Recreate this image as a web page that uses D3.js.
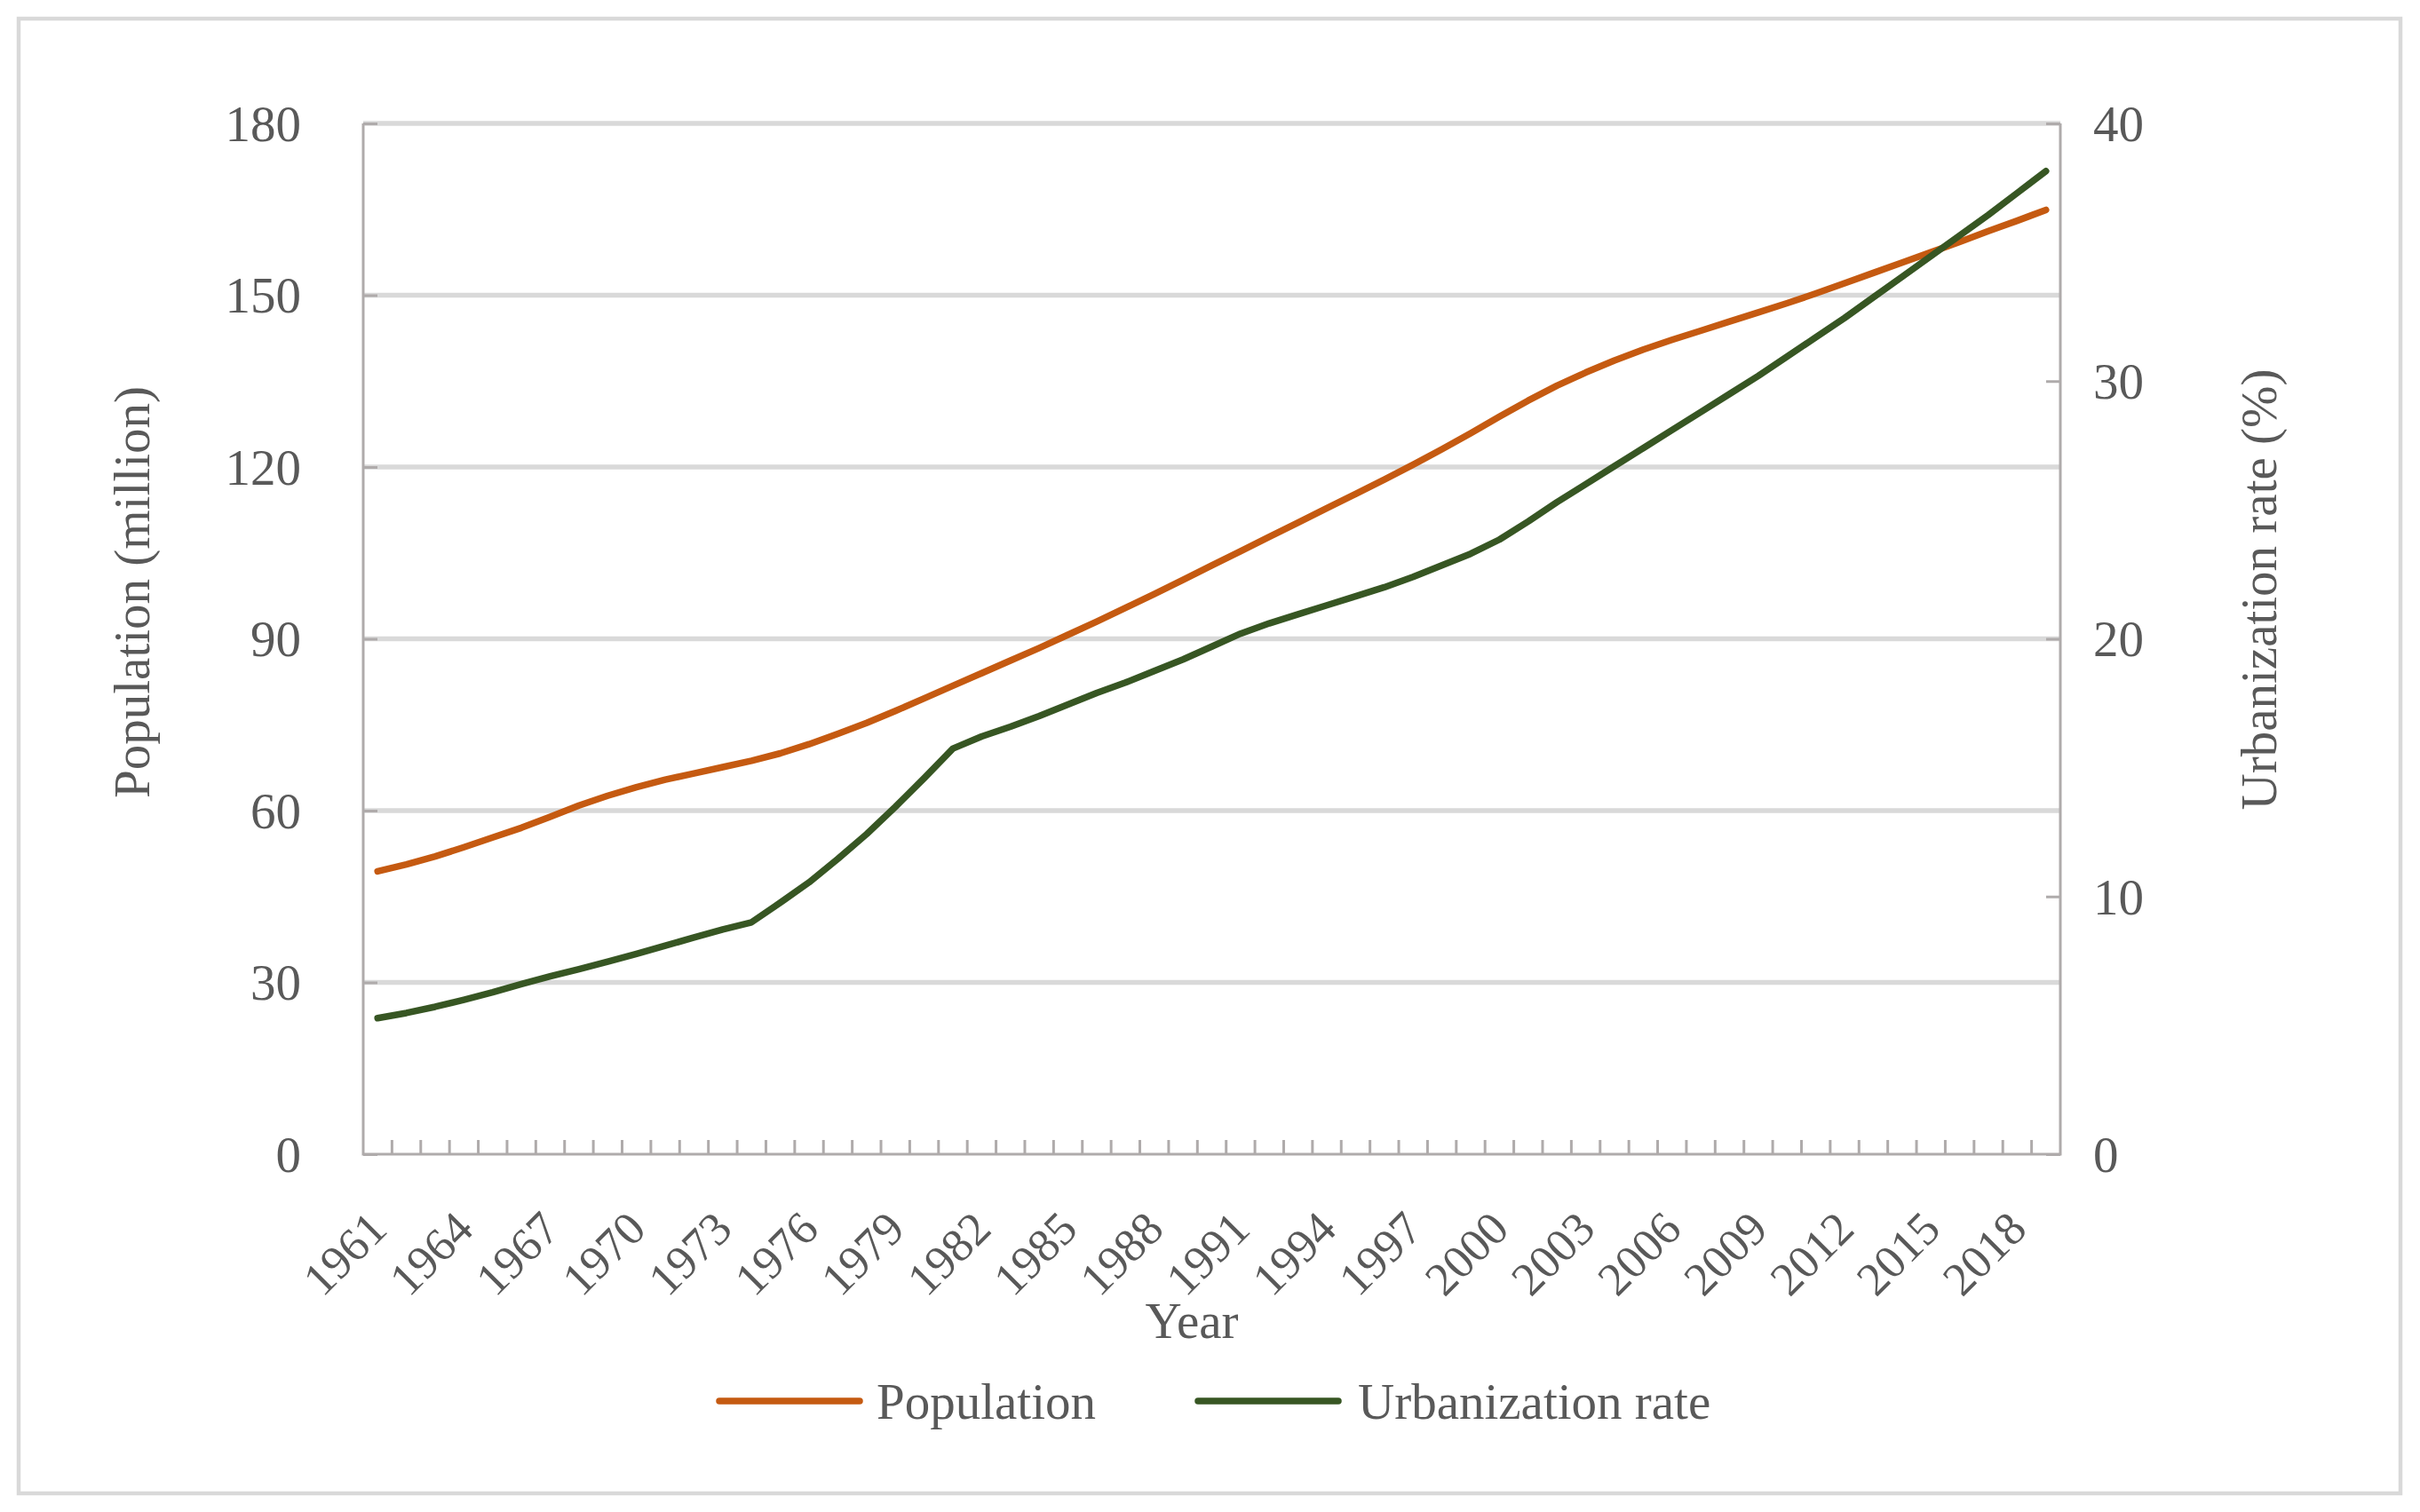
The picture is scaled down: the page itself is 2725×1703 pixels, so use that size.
<!DOCTYPE html>
<html>
<head>
<meta charset="utf-8">
<script src="https://cdn.jsdelivr.net/npm/d3@7"></script>
<style>
  body { margin: 0; background: #fff; }
  #chart text { font-family: "Liberation Serif", "Times New Roman", serif; fill: #595959; }
</style>
</head>
<body>
<div id="chart"></div>
<script>
// Categories
const years = [1961, 1962, 1963, 1964, 1965, 1966, 1967, 1968, 1969, 1970,
  1971, 1972, 1973, 1974, 1975, 1976, 1977, 1978, 1979, 1980,
  1981, 1982, 1983, 1984, 1985, 1986, 1987, 1988, 1989, 1990,
  1991, 1992, 1993, 1994, 1995, 1996, 1997, 1998, 1999, 2000,
  2001, 2002, 2003, 2004, 2005, 2006, 2007, 2008, 2009, 2010,
  2011, 2012, 2013, 2014, 2015, 2016, 2017, 2018, 2019];

// Population (million), left axis
const population = [49.4, 50.6, 52.0, 53.6, 55.3, 57.0, 58.9, 60.9, 62.6, 64.1,
  65.4, 66.5, 67.6, 68.7, 70.0, 71.6, 73.4, 75.3, 77.4, 79.6,
  81.8, 84.0, 86.2, 88.4, 90.7, 93.0, 95.4, 97.8, 100.3, 102.8,
  105.3, 107.8, 110.3, 112.8, 115.3, 117.8, 120.4, 123.1, 125.9, 128.8,
  131.6, 134.2, 136.5, 138.6, 140.5, 142.2, 143.8, 145.4, 147.0, 148.6,
  150.3, 152.1, 153.9, 155.7, 157.5, 159.3, 161.2, 163.0, 164.9];

// Urbanization rate (%), right axis
const urbanization = [5.28, 5.48, 5.72, 5.99, 6.28, 6.6, 6.9, 7.18, 7.47, 7.77,
  8.09, 8.41, 8.72, 9.0, 9.76, 10.55, 11.46, 12.42, 13.48, 14.59,
  15.74, 16.21, 16.59, 17.0, 17.45, 17.9, 18.3, 18.75, 19.2, 19.7,
  20.2, 20.6, 20.95, 21.3, 21.65, 22.0, 22.4, 22.85, 23.3, 23.85,
  24.55, 25.3, 26.0, 26.7, 27.4, 28.1, 28.8, 29.5, 30.2, 30.95,
  31.7, 32.45, 33.25, 34.05, 34.85, 35.65, 36.45, 37.3, 38.15];

// Tick labels
const leftTicks = [0, 30, 60, 90, 120, 150, 180];
const rightTicks = [0, 10, 20, 30, 40];
const labelYears = [1961, 1964, 1967, 1970, 1973, 1976, 1979, 1982, 1985, 1988,
  1991, 1994, 1997, 2000, 2003, 2006, 2009, 2012, 2015, 2018];

const seriesNames = ["Population", "Urbanization rate"];
const seriesColors = ["#c55a11", "#375623"];

const width = 2725, height = 1703;
const plot = { left: 409, right: 2320, top: 139, bottom: 1300 };
const fontSize = 57;
const yearFontSize = 53;
const axisColor = "#afabab";
const gridColor = "#d9d9d9";

const svg = d3.select("#chart").append("svg")
  .attr("width", width)
  .attr("height", height);

// Outer chart border
svg.append("rect")
  .attr("x", 21).attr("y", 21)
  .attr("width", 2682).attr("height", 1661)
  .attr("fill", "#fff")
  .attr("stroke", gridColor)
  .attr("stroke-width", 4.5);

// Scales
const x = d3.scaleBand().domain(years).range([plot.left, plot.right]);
const cx = (yr) => x(yr) + x.bandwidth() / 2;
const yLeft = d3.scaleLinear().domain([0, 180]).range([plot.bottom, plot.top]);
const yRight = d3.scaleLinear().domain([0, 40]).range([plot.bottom, plot.top]);

// Gridlines
svg.append("g")
  .selectAll("line")
  .data(leftTicks.filter((t) => t > 0))
  .enter()
  .append("line")
  .attr("x1", plot.left).attr("x2", plot.right)
  .attr("y1", (d) => yLeft(d)).attr("y2", (d) => yLeft(d))
  .attr("stroke", gridColor)
  .attr("stroke-width", 5.5);

// Left axis
const leftAxis = svg.append("g")
  .attr("transform", `translate(${plot.left},0)`)
  .call(d3.axisLeft(yLeft).tickValues(leftTicks).tickSize(-16).tickPadding(70));
leftAxis.select(".domain").remove();
leftAxis.selectAll("line").attr("stroke", axisColor).attr("stroke-width", 3);
leftAxis.selectAll("text").style("font-size", fontSize + "px").attr("dy", "0.34em");

// Right axis
const rightAxis = svg.append("g")
  .attr("transform", `translate(${plot.right},0)`)
  .call(d3.axisRight(yRight).tickValues(rightTicks).tickSize(-16).tickPadding(37));
rightAxis.select(".domain").remove();
rightAxis.selectAll("line").attr("stroke", axisColor).attr("stroke-width", 3);
rightAxis.selectAll("text").style("font-size", fontSize + "px").attr("dy", "0.34em");

// Axis lines
svg.append("path")
  .attr("d", `M${plot.left},${plot.top}V${plot.bottom}H${plot.right}V${plot.top}`)
  .attr("fill", "none")
  .attr("stroke", axisColor)
  .attr("stroke-width", 3);

// Category tick marks between years
svg.append("g")
  .selectAll("line")
  .data(years.slice(1))
  .enter()
  .append("line")
  .attr("x1", (d) => x(d)).attr("x2", (d) => x(d))
  .attr("y1", plot.bottom).attr("y2", plot.bottom - 16)
  .attr("stroke", axisColor)
  .attr("stroke-width", 3);

// Rotated year labels
svg.append("g")
  .selectAll("text")
  .data(labelYears)
  .enter()
  .append("text")
  .attr("transform", (d) => `translate(${cx(d)},${plot.bottom + 74}) rotate(-45)`)
  .attr("text-anchor", "end")
  .attr("dy", "0.35em")
  .style("font-size", yearFontSize + "px")
  .text((d) => d);

// Axis titles
svg.append("text")
  .attr("x", 1342).attr("y", 1507)
  .attr("text-anchor", "middle")
  .style("font-size", fontSize + "px")
  .text("Year");

svg.append("text")
  .attr("transform", "translate(148,667) rotate(-90)")
  .attr("text-anchor", "middle")
  .attr("dy", "0.35em")
  .style("font-size", fontSize + "px")
  .text("Population (million)");

svg.append("text")
  .attr("transform", "translate(2543,664) rotate(-90)")
  .attr("text-anchor", "middle")
  .attr("dy", "0.35em")
  .style("font-size", fontSize + "px")
  .text("Urbanization rate (%)");

// Lines
const popLine = d3.line()
  .x((d, i) => cx(years[i]))
  .y((d) => yLeft(d));
const urbLine = d3.line()
  .x((d, i) => cx(years[i]))
  .y((d) => yRight(d));

svg.append("path")
  .datum(population)
  .attr("d", popLine)
  .attr("fill", "none")
  .attr("stroke", seriesColors[0])
  .attr("stroke-width", 7.5)
  .attr("stroke-linecap", "round")
  .attr("stroke-linejoin", "round");

svg.append("path")
  .datum(urbanization)
  .attr("d", urbLine)
  .attr("fill", "none")
  .attr("stroke", seriesColors[1])
  .attr("stroke-width", 7.5)
  .attr("stroke-linecap", "round")
  .attr("stroke-linejoin", "round");

// Legend
const legendY = 1578;
const legendItems = [
  { x1: 810, x2: 968, tx: 987 },
  { x1: 1349, x2: 1507, tx: 1529 }
];
const legend = svg.append("g")
  .selectAll("g")
  .data(seriesNames)
  .enter()
  .append("g");
legend.append("line")
  .attr("x1", (d, i) => legendItems[i].x1)
  .attr("x2", (d, i) => legendItems[i].x2)
  .attr("y1", legendY).attr("y2", legendY)
  .attr("stroke", (d, i) => seriesColors[i])
  .attr("stroke-width", 7.5)
  .attr("stroke-linecap", "round");
legend.append("text")
  .attr("x", (d, i) => legendItems[i].tx)
  .attr("y", legendY)
  .attr("dy", "0.35em")
  .style("font-size", fontSize + "px")
  .text((d) => d);
</script>
</body>
</html>
